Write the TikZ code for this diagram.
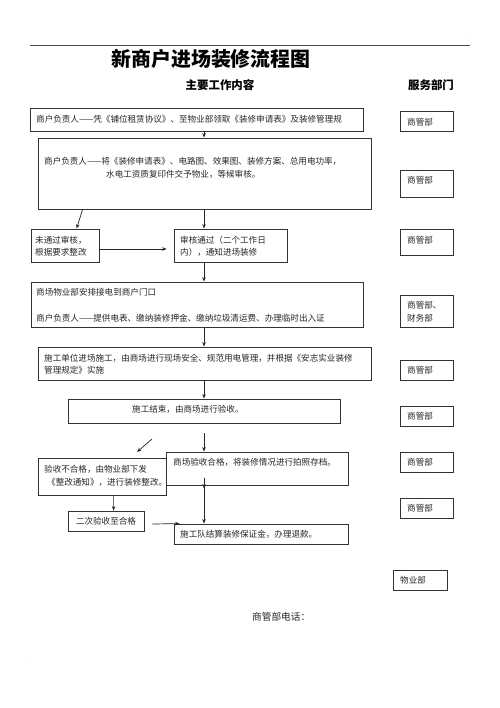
\documentclass[tikz,border=0pt]{standalone}
\usepackage{fontspec}
\setmainfont{Noto Sans CJK SC}
\usetikzlibrary{arrows.meta,fit,calc}
\tikzset{
  box/.style={draw=black!80, line width=0.8bp, inner sep=0pt},
  txt/.style={anchor=west, inner sep=0pt, font=\fontsize{8.6}{10}\selectfont, text=black!85},
  dep/.style={anchor=west, inner sep=0pt, font=\fontsize{8.6}{10}\selectfont, text=black!85},
  arr/.style={-{Stealth[length=4.5bp,width=3.5bp]}, line width=0.7bp, draw=black!85},
}
\begin{document}
\begin{tikzpicture}[x=1bp,y=-1bp]
\path[fill=white, use as bounding box] (0,0) rectangle (500,708);
\draw[line width=0.6bp, black!70] (30,45) -- (470,45);
\node[inner sep=0pt, font=\fontsize{5}{6}\selectfont, text=black!50] (dot1) at (468,40) {.};
\node[inner sep=0pt, font=\fontsize{5}{6}\selectfont, text=black!50] (dot2) at (31,660) {.};

\node[font=\fontsize{20}{24}\selectfont\bfseries] (title) at (211,59) {新商户进场装修流程图};
\node[font=\fontsize{11.5}{14}\selectfont\bfseries] (h1) at (220,85) {主要工作内容};
\node[font=\fontsize{11.5}{14}\selectfont\bfseries] (h2) at (431,85) {服务部门};

% main boxes
\node[box, fit={(30,108) (363,131)}] (b1) {};
\node[box, fit={(38,138) (371,209)}] (b2) {};
\node[box, fit={(31,229) (99,262)}] (bn) {};
\node[box, fit={(174,229) (287,262)}] (by) {};
\node[box, fit={(31,282) (363,327)}] (b4) {};
\node[box, fit={(38,347) (371,380)}] (b5) {};
\node[box, fit={(68,399) (340,423)}] (b6) {};
\node[box, fit={(166,452) (348,485)}] (b7) {};
\node[box, fit={(38,458) (166,495)}] (b8) {};
\node[box, fit={(68,511) (144,531)}] (b10) {};
\node[box, fit={(174,524) (348,544)}] (b9) {};

% department boxes
\node[box, fit={(400,111) (453,131)}] (d1) {};
\node[box, fit={(400,170) (453,197)}] (d2) {};
\node[box, fit={(400,229) (453,255)}] (d3) {};
\node[box, fit={(400,295) (453,327)}] (d4) {};
\node[box, fit={(400,360) (453,380)}] (d5) {};
\node[box, fit={(400,406) (453,426)}] (d6) {};
\node[box, fit={(400,452) (453,472)}] (d7) {};
\node[box, fit={(400,498) (453,518)}] (d8) {};
\node[box, fit={(393,570) (447,590)}] (d9) {};

% texts
\node[txt] (t1) at (36,119) {商户负责人——凭《铺位租赁协议》、至物业部领取《装修申请表》及装修管理规};
\node[txt] (t2a) at (44,161) {商户负责人——将《装修申请表》、电路图、效果图、装修方案、总用电功率，};
\node[txt] (t2b) at (106,174) {水电工资质复印件交予物业，等候审核。};
\node[txt] (tn1) at (35,240) {未通过审核，};
\node[txt] (tn2) at (35,252) {根据要求整改};
\node[txt] (ty1) at (180,240) {审核通过（二个工作日};
\node[txt] (ty2) at (180,252) {内），通知进场装修};
\node[txt] (t4a) at (36,292) {商场物业部安排接电到商户门口};
\node[txt] (t4b) at (36,318) {商户负责人——提供电表、缴纳装修押金、缴纳垃圾清运费、办理临时出入证};
\node[txt] (t5a) at (44,358) {施工单位进场施工，由商场进行现场安全、规范用电管理，并根据《安志实业装修};
\node[txt] (t5b) at (44,370) {管理规定》实施};
\node[txt] (t6) at (132,409) {施工结束，由商场进行验收。};
\node[txt] (t7) at (173,462) {商场验收合格，将装修情况进行拍照存档。};
\node[txt] (t8a) at (44,469) {验收不合格，由物业部下发};
\node[txt] (t8b) at (47,482) {《整改通知》，进行装修整改。};
\node[txt, anchor=center] (t10) at (b10.center) {二次验收至合格};
\node[txt] (t9) at (180,534) {施工队结算装修保证金，办理退款。};

\node[dep] (e1) at (407,122) {商管部};
\node[dep] (e2) at (407,180) {商管部};
\node[dep] (e3) at (407,240) {商管部};
\node[dep] (e4a) at (407,305) {商管部、};
\node[dep] (e4b) at (407,318) {财务部};
\node[dep] (e5) at (407,370) {商管部};
\node[dep] (e6) at (407,416) {商管部};
\node[dep] (e7) at (407,462) {商管部};
\node[dep] (e8) at (407,508) {商管部};
\node[dep] (e9) at (400,580) {物业部};

\node[anchor=west, inner sep=0pt, font=\fontsize{9.7}{12}\selectfont, text=black!85] (phone) at (252,617) {商管部电话：};

% connectors
\coordinate (sp) at (204,0);
\draw[arr] (b1.south -| sp) -- (b2.north -| sp);
\draw[arr] (b2.south -| sp) -- (by.north -| sp);
\draw[arr] ([xshift=45bp]b2.south west) -- ([xshift=46bp]bn.north west);
\draw[arr, shorten >=7bp] ([yshift=-3.5bp]bn.east) -- ([yshift=-3.5bp]by.west);
\draw[arr] (by.south -| sp) -- (b4.north -| sp);
\draw[arr] (b4.south -| sp) -- (b5.north -| sp);
\draw[arr] (b5.south -| sp) -- (b6.north -| sp);
\draw[arr, shorten <=10bp] (b6.south -| sp) -- (b7.north -| sp);
\coordinate (f1) at (152,439);
\coordinate (f2) at (137,452);
\draw[arr] (f1) -- (f2);
\draw[arr] ($(b7.south -| sp)+(0,-7)$) -- ($(b7.south -| sp)+(0,3)$);
\draw[arr] (b7.south -| sp) -- (b9.north -| sp);
\draw[arr] ([xshift=76bp]b8.south west) -- ([xshift=46bp]b10.north west);
\draw[arr] ($(b10.east)+(8,3)$) -- ($(b9.north west)+(6,0)$);
\end{tikzpicture}
\end{document}
